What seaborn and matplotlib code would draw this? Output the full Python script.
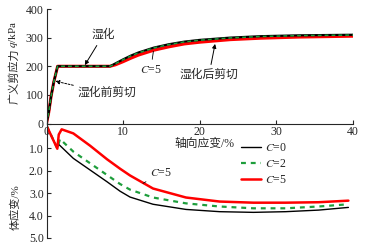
import numpy as np
import pandas as pd
import matplotlib
matplotlib.use('Agg')
import matplotlib.pyplot as plt
from matplotlib.lines import Line2D
import seaborn as sns

# ---- upper panel: deviatoric stress q (kPa) vs axial strain (%) ----
q_strain = [0, 0.3, 0.6, 0.95, 1.45, 8.3, 9, 10, 11, 12, 14, 16, 18, 20, 24, 28, 33, 40]
q_c0 = [0, 40, 95, 145, 200, 200, 210, 224, 237, 248, 265, 277, 286, 292, 300, 305, 308, 310]
q_c2 = [0, 40, 95, 145, 200, 200, 209, 223, 236, 247, 264, 276, 285, 291, 299, 304, 307, 309]
q_c5 = [0, 40, 95, 145, 200, 200, 205, 216, 228, 239, 256, 268, 278, 284, 293, 298, 302, 305]

# ---- lower panel: volumetric strain (%) vs axial strain (%) ----
ev_strain_c0 = [0, 1.41, 1.54, 3.5, 5.7, 7.9, 9.6, 10.9, 13.9, 18.2, 22.6, 27, 31.2, 35.5, 39.4]
ev_c0 = [0, 1.01, 0.82, 1.46, 1.98, 2.5, 2.92, 3.18, 3.5, 3.73, 3.83, 3.86, 3.83, 3.76, 3.64]
ev_strain_c2 = [0, 1.41, 1.76, 3.5, 5.7, 7.9, 9.6, 10.9, 13.9, 18.2, 22.6, 27, 31.2, 35.5, 39.4]
ev_c2 = [0, 1.01, 0.6, 1.16, 1.68, 2.2, 2.6, 2.85, 3.2, 3.46, 3.6, 3.68, 3.68, 3.6, 3.5]
ev_strain_c5 = [0, 1.41, 1.6, 1.98, 3.5, 5.7, 7.9, 9.6, 10.9, 13.9, 18.2, 22.6, 27, 31.2, 35.5, 39.4]
ev_c5 = [0, 1.03, 0.4, 0.17, 0.35, 0.9, 1.5, 1.92, 2.22, 2.8, 3.2, 3.38, 3.43, 3.43, 3.41, 3.34]

series_labels = ['$C$=0', '$C$=2', '$C$=5']
x_ticks = [0, 10, 20, 30, 40]
q_ticks = [0, 100, 200, 300, 400]
ev_ticks = [1.0, 2.0, 3.0, 4.0, 5.0]
ev_ticklabels = ['1.0', '2.0', '3.0', '4.0', '5.0']

BLACK, GREEN, RED = '#000000', '#1e9e3c', '#ff0000'

sns.set_style('ticks')
plt.rcParams['font.family'] = ['Liberation Serif', 'Noto Sans CJK SC']
plt.rcParams['mathtext.fontset'] = 'stix'
plt.rcParams['axes.unicode_minus'] = False

W, H = 370, 250
fig = plt.figure(figsize=(3.7, 2.5), dpi=100)
fig.patch.set_facecolor('white')

def fx(px):
    return px / W

def fy(py):
    return 1 - py / H

X0, X1 = 46.5, 353
ax1 = fig.add_axes([fx(X0), fy(123.5), fx(X1) - fx(X0), fy(9) - fy(123.5)])
ax2 = fig.add_axes([fx(X0), fy(238), fx(X1) - fx(X0), fy(123.5) - fy(238)])
for ax in (ax1, ax2):
    ax.set_facecolor('none')

# upper curves
sns.lineplot(x=q_strain, y=q_c5, ax=ax1, color=RED, lw=2.2, estimator=None, sort=False)
sns.lineplot(x=q_strain, y=q_c0, ax=ax1, color=BLACK, lw=1.6, estimator=None, sort=False)
sns.lineplot(x=q_strain, y=q_c2, ax=ax1, color=GREEN, lw=1.1, linestyle=(0, (2.5, 2)),
             estimator=None, sort=False)

# lower curves
sns.lineplot(x=ev_strain_c0, y=ev_c0, ax=ax2, color=BLACK, lw=1.0, estimator=None, sort=False)
sns.lineplot(x=ev_strain_c2, y=ev_c2, ax=ax2, color=GREEN, lw=1.6, linestyle=(0, (2.2, 2.2)),
             estimator=None, sort=False)
sns.lineplot(x=ev_strain_c5, y=ev_c5, ax=ax2, color=RED, lw=1.8, estimator=None, sort=False)

TICK_FS = 8.5
# upper axes styling
ax1.set_xlim(0, 40)
ax1.set_ylim(0, 400)
ax1.set_xticks(x_ticks)
ax1.set_yticks(q_ticks)
ax1.spines['top'].set_visible(False)
ax1.spines['right'].set_visible(False)
for s in ('left', 'bottom'):
    ax1.spines[s].set_linewidth(0.8)
ax1.tick_params(direction='in', length=3, width=0.8, labelsize=TICK_FS, pad=2)
ax1.tick_params(axis='x', pad=1.5)
ax1.set_xlabel('')
ax1.set_ylabel('')

# lower axes styling
ax2.set_xlim(0, 40)
ax2.set_ylim(5.0, -0.09)
ax2.set_yticks(ev_ticks)
ax2.set_yticklabels(ev_ticklabels)
ax2.set_xticks([])
for s in ('top', 'right', 'bottom'):
    ax2.spines[s].set_visible(False)
ax2.spines['left'].set_linewidth(0.8)
ax2.tick_params(direction='in', length=3, width=0.8, labelsize=TICK_FS, pad=2)
ax2.set_xlabel('')
ax2.set_ylabel('')

# axis titles
LAB_FS = 8.5
fig.text(fx(14), fy(48), '广义剪应力', rotation=90, ha='center', va='top', fontsize=8)
fig.text(fx(14), fy(48), '$q$/kPa', rotation=90, ha='center', va='bottom', fontsize=8)
fig.text(fx(15), fy(207), '体应变/%', rotation=90, ha='center', va='center', fontsize=8)
fig.text(fx(204), fy(144), '轴向应变/%', ha='center', va='center', fontsize=LAB_FS)

# annotations upper
arrow_kw = dict(arrowstyle='-|>', color='k', lw=0.7, mutation_scale=6, shrinkA=1, shrinkB=0)
ax1.annotate('湿化', xy=(5.0, 204), xytext=(7.4, 309), ha='center', va='center',
             fontsize=LAB_FS, arrowprops=arrow_kw)
ax1.annotate('湿化前剪切', xy=(1.15, 148), xytext=(4.1, 106), ha='left', va='center',
             fontsize=LAB_FS, arrowprops=dict(arrow_kw, linestyle=(0, (2, 1.5))))
ax1.annotate('湿化后剪切', xy=(22.0, 278), xytext=(21.2, 169), ha='center', va='center',
             fontsize=LAB_FS, arrowprops=arrow_kw)
ax1.annotate('$C$=5', xy=(13.95, 252), xytext=(13.6, 187), ha='center', va='center',
             fontsize=TICK_FS, arrowprops=dict(arrowstyle='-', color='k', lw=0.6, shrinkA=1, shrinkB=0))
ax2.annotate('$C$=5', xy=(12.6, 2.57), xytext=(15.0, 2.12), ha='center', va='center',
             fontsize=TICK_FS, arrowprops=dict(arrowstyle='-', color='k', lw=0.6, shrinkA=1, shrinkB=0))

# legend
handles = [Line2D([], [], color=BLACK, lw=1.0),
           Line2D([], [], color=GREEN, lw=1.6, linestyle=(0, (2.2, 2.2))),
           Line2D([], [], color=RED, lw=1.8)]
ax2.legend(handles, series_labels, loc='upper left', bbox_to_anchor=(fx(241), fy(142)),
           bbox_transform=fig.transFigure, frameon=False, fontsize=TICK_FS,
           handlelength=1.7, handletextpad=0.3, labelspacing=0.35, borderpad=0,
           borderaxespad=0)

fig.savefig('out.png', dpi=100, facecolor='white')
